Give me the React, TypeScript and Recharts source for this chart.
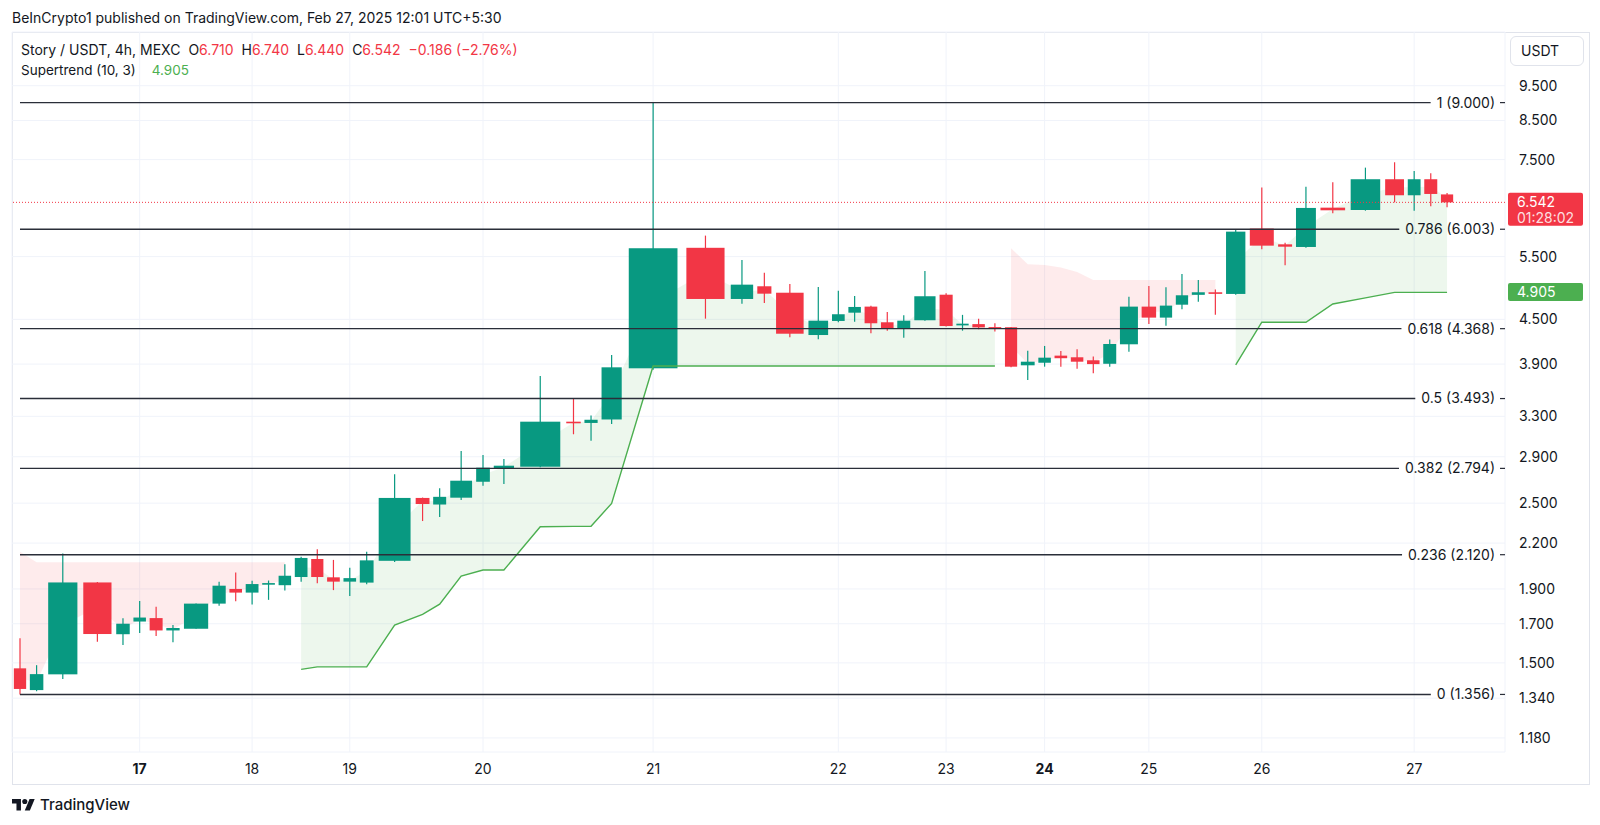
import React from 'react';
import {
  ComposedChart,
  Bar,
  Area,
  Line,
  XAxis,
  YAxis,
  CartesianGrid,
  ReferenceLine,
} from 'recharts';

// Story / USDT 4h volume candles, Feb 16 04:00 .. Feb 27 08:00 (one value per candle)
const opens = [
  1.474, 1.375, 1.446, 1.940, 1.644, 1.712, 1.731, 1.664, 1.673, 1.813,
  1.900, 1.878, 1.930, 1.923, 1.974, 2.091, 1.972, 1.945, 1.939, 2.079,
  2.542, 2.489, 2.544, 2.677, 2.795, 2.809, 3.244, 3.231, 3.267, 3.848,
  5.657, 4.803, 5.002, 4.900, 4.280, 4.477, 4.597, 4.687, 4.458, 4.377,
  4.487, 4.869, 4.414, 4.432, 4.390, 4.388, 3.885, 3.917, 4.007, 3.986,
  3.948, 3.904, 4.155, 4.687, 4.525, 4.716, 4.867, 4.907, 4.881, 6.016,
  5.720, 5.672, 6.432, 6.384, 7.044, 6.692, 7.044, 6.710,
];
const highs = [
  1.623, 1.489, 2.129, 1.942, 1.730, 1.828, 1.795, 1.693, 1.813, 1.945,
  2.003, 1.950, 1.952, 2.056, 2.106, 2.158, 2.085, 2.033, 2.140, 2.742,
  2.545, 2.622, 2.954, 2.916, 2.880, 3.755, 3.496, 3.310, 4.016, 9.000,
  5.882, 5.441, 5.224, 5.039, 4.990, 4.932, 4.849, 4.700, 4.607, 4.560,
  5.253, 4.890, 4.565, 4.510, 4.445, 4.390, 4.071, 4.133, 4.067, 4.090,
  3.995, 4.220, 4.838, 5.007, 4.985, 5.203, 5.104, 4.950, 6.000, 6.858,
  5.750, 6.877, 6.977, 7.310, 7.437, 7.233, 7.180, 6.740,
];
const lows = [
  1.356, 1.370, 1.425, 1.605, 1.588, 1.650, 1.634, 1.602, 1.673, 1.800,
  1.827, 1.808, 1.835, 1.890, 1.945, 1.935, 1.893, 1.857, 1.929, 2.071,
  2.361, 2.391, 2.525, 2.643, 2.657, 2.805, 3.116, 3.053, 3.220, 3.830,
  4.510, 4.731, 4.740, 4.249, 4.222, 4.458, 4.467, 4.304, 4.340, 4.244,
  4.480, 4.400, 4.340, 4.360, 4.327, 3.860, 3.706, 3.868, 3.868, 3.842,
  3.786, 3.868, 4.058, 4.434, 4.410, 4.648, 4.760, 4.565, 4.870, 5.633,
  5.350, 5.660, 6.317, 6.370, 6.542, 6.370, 6.460, 6.440,
];
const closes = [
  1.380, 1.447, 1.940, 1.645, 1.700, 1.734, 1.664, 1.677, 1.813, 1.920,
  1.878, 1.930, 1.936, 1.982, 2.098, 1.974, 1.945, 1.967, 2.082, 2.542,
  2.493, 2.551, 2.686, 2.800, 2.818, 3.244, 3.228, 3.264, 3.860, 5.649,
  4.803, 5.028, 4.885, 4.298, 4.481, 4.574, 4.682, 4.444, 4.377, 4.481,
  4.845, 4.405, 4.438, 4.386, 4.370, 3.868, 3.930, 3.981, 3.974, 3.930,
  3.900, 4.159, 4.687, 4.525, 4.702, 4.860, 4.907, 4.885, 5.957, 5.696,
  5.677, 6.426, 6.378, 7.044, 6.692, 7.044, 6.720, 6.542,
];
// relative volume of each candle (volume candles: width follows volume)
const volumeWidth = [
  16, 17.2, 35.2, 34, 17.2, 16.2, 16.7, 17, 29.2, 16.9,
  16.3, 16.5, 16.4, 16.2, 16.4, 15.9, 16.4, 16.3, 17.5, 38.4,
  17.5, 16.7, 26.3, 17.4, 24.4, 48.3, 18.2, 16.9, 24.3, 58.7,
  46, 27, 17.8, 33.2, 23.7, 16.4, 16.2, 16.4, 16.3, 16.7,
  25.6, 16.8, 16, 16.2, 16.4, 15.9, 17.5, 16.2, 16.3, 16.2,
  16.2, 16.7, 21.7, 18.2, 16, 16, 16.7, 17.4, 23.3, 28.9,
  17.7, 24, 29.7, 35.6, 22.7, 16.5, 16.7, 15.9,
];
// Supertrend (10, 3)
const supertrend = [
  2.140, 2.069, 2.069, 2.069, 2.069, 2.069, 2.069, 2.069, 2.069, 2.069,
  2.069, 2.069, 2.069, 2.069, 1.469, 1.481, 1.481, 1.481, 1.481, 1.693,
  1.752, 1.810, 1.980, 2.019, 2.019, 2.318, 2.321, 2.322, 2.498, 3.876,
  3.876, 3.876, 3.876, 3.876, 3.876, 3.876, 3.876, 3.876, 3.876, 3.876,
  3.876, 3.876, 3.876, 3.876, 3.876, 5.649, 5.367, 5.355, 5.313, 5.236,
  5.104, 5.104, 5.104, 5.104, 5.104, 5.104, 5.104, 5.104, 3.889, 4.459,
  4.459, 4.459, 4.727, 4.819, 4.905, 4.905, 4.905, 4.905,
];
const trendSegments = [
  { up: false, first: 0, last: 13 },
  { up: true, first: 14, last: 44 },
  { up: false, first: 45, last: 57 },
  { up: true, first: 58, last: 67 },
];

const dayLabels = ['17', '18', '19', '20', '21', '22', '23', '24', '25', '26', '27'];
const boldDays = ['17', '24'];
const FIRST_MIDNIGHT_BAR = 5; // Feb 17 00:00
const BARS_PER_DAY = 6;

const priceTicks = [1.18, 1.34, 1.5, 1.7, 1.9, 2.2, 2.5, 2.9, 3.3, 3.9, 4.5, 5.5, 7.5, 8.5, 9.5];
const fibLevels = [
  { ratio: '1', price: 9.0 },
  { ratio: '0.786', price: 6.003 },
  { ratio: '0.618', price: 4.368 },
  { ratio: '0.5', price: 3.493 },
  { ratio: '0.382', price: 2.794 },
  { ratio: '0.236', price: 2.12 },
  { ratio: '0', price: 1.356 },
];

const GREEN = '#089981';
const RED = '#f23645';
const ST_GREEN = '#4caf50';
const TEXT = '#131722';
const FONT = 'Inter, "Noto Sans", sans-serif';
const FONT_CSS = `14px Inter, "Noto Sans", sans-serif`;

const CHART_W = 1600;
const CHART_H = 825;
const MARGIN = { top: 32, right: 0, bottom: 42, left: 12 };
const Y_AXIS_W = 95;
const X_AXIS_H = 31;
const PLOT_W = CHART_W - MARGIN.left - Y_AXIS_W;
const PLOT_BOTTOM = CHART_H - MARGIN.bottom - X_AXIS_H;
const RIGHT_SPACE = 50;

const trendAt = (i: number) => trendSegments.find((s) => i >= s.first && i <= s.last)!.up;

let cursor = 0;
const rows = opens.map((open, i) => {
  const w = volumeWidth[i];
  const x = cursor + w / 2;
  cursor += w;
  const close = closes[i];
  const mid = (open + close) / 2;
  const up = trendAt(i);
  return {
    x,
    w,
    open,
    close,
    wick: [lows[i], highs[i]],
    body: [Math.min(open, close), Math.max(open, close)],
    stUp: up ? supertrend[i] : null,
    bandUp: up ? [supertrend[i], mid] : null,
    bandDown: up ? null : [mid, supertrend[i]],
  };
});
const X_MAX = cursor + RIGHT_SPACE;
const pxPerUnit = PLOT_W / X_MAX;
const dayTicks = dayLabels.map((_, k) => rows[FIRST_MIDNIGHT_BAR + k * BARS_PER_DAY].x);
const lastClose = closes[closes.length - 1];
const lastSt = supertrend[supertrend.length - 1];

const measureCtx = document.createElement('canvas').getContext('2d');
const textWidth = (t: string) => {
  if (!measureCtx) return t.length * 7;
  measureCtx.font = FONT_CSS;
  return measureCtx.measureText(t).width;
};

const Wick = (props: any) => {
  const { x, y, width, height, payload } = props;
  const cx = x + width / 2;
  const top = Math.min(y, y + height);
  const color = payload.close >= payload.open ? GREEN : RED;
  return <line x1={cx} x2={cx} y1={top} y2={top + Math.abs(height)} stroke={color} strokeWidth={1.2} />;
};

const Body = (props: any) => {
  const { x, y, width, height, payload } = props;
  const cx = x + width / 2;
  const slot = payload.w * pxPerUnit;
  const bw = slot - Math.max(3.7, slot * 0.17);
  const top = Math.min(y, y + height);
  const h = Math.max(Math.abs(height), 1.6);
  const color = payload.close >= payload.open ? GREEN : RED;
  return <rect x={cx - bw / 2} y={top} width={bw} height={h} fill={color} />;
};

const DayTick = (props: any) => {
  const { x, payload } = props;
  const label = dayLabels[dayTicks.indexOf(payload.value)];
  return (
    <text x={x} y={PLOT_BOTTOM + 17} dy="0.35em" textAnchor="middle" fill={TEXT} fontFamily={FONT} fontSize={14}
      fontWeight={boldDays.includes(label) ? 700 : 400}>
      {label}
    </text>
  );
};

const PriceTick = (props: any) => {
  const { x, y, payload } = props;
  return (
    <text x={x + 12} y={y} dy="0.35em" textAnchor="start" fill={TEXT} fontFamily={FONT} fontSize={14}>
      {payload.value.toFixed(3)}
    </text>
  );
};

const FibLabel = (props: any) => {
  const { viewBox, text } = props;
  if (!viewBox) return null;
  const right = viewBox.x + viewBox.width;
  const y = viewBox.y;
  const textRight = right - 10;
  const lineEnd = textRight - textWidth(text) - 6;
  return (
    <g>
      <line x1={viewBox.x} x2={lineEnd} y1={y} y2={y} stroke="#2a2e39" strokeWidth={1.4} />
      <text x={textRight} y={y} dy="0.35em" textAnchor="end" fill={TEXT} fontFamily={FONT} fontSize={14}>
        {text}
      </text>
      <line x1={right - 5} x2={right} y1={y} y2={y} stroke="#2a2e39" strokeWidth={1.2} />
    </g>
  );
};

const PriceBadge = (props: any) => {
  const { viewBox, color, lines } = props;
  if (!viewBox) return null;
  const left = viewBox.x + viewBox.width + 3;
  const y = viewBox.y;
  const h = lines.length > 1 ? 33 : 18;
  return (
    <g>
      <rect x={left} y={y - 9.5} width={75} height={h} rx={2} fill={color} />
      {lines.map((t: string, i: number) => (
        <text key={t} x={left + 9} y={y + i * 16} dy="0.35em" fill="#fff" fillOpacity={i ? 0.85 : 1}
          fontFamily={FONT} fontSize={14}>
          {t}
        </text>
      ))}
    </g>
  );
};

const TvLogo = () => (
  <svg width={23} height={11.5} viewBox="0 4 36 18" style={{ position: 'absolute', left: 12, top: 799 }}>
    <path d="M14 22H7V11H0V4h14v18z" fill={TEXT} />
    <circle cx={20} cy={8} r={4} fill={TEXT} />
    <path d="M28 22h-8l7.5-18h8L28 22z" fill={TEXT} />
  </svg>
);

export default function App() {
  return (
    <div style={{ position: 'absolute', left: 0, top: 0, width: CHART_W, height: CHART_H, background: '#fff', fontFamily: FONT, color: TEXT }}>
      <div style={{ position: 'absolute', left: 12, top: 8, fontSize: 14, lineHeight: '20px', whiteSpace: 'nowrap' }}>
        BeInCrypto1 published on TradingView.com, Feb 27, 2025 12:01 UTC+5:30
      </div>
      <div style={{ position: 'absolute', left: 11.5, top: 31.5, width: 1576, height: 751, border: '1px solid #e0e3eb' }} />
      <ComposedChart width={CHART_W} height={CHART_H} data={rows} margin={MARGIN}
        style={{ position: 'absolute', left: 0, top: 0 }}>
        <CartesianGrid xAxisId="main" stroke="#f0f3fa" strokeWidth={1} />
        <XAxis xAxisId="main" type="number" dataKey="x" domain={[0, X_MAX]} ticks={dayTicks} interval={0}
          tick={<DayTick />} axisLine={false} tickLine={false} tickSize={0} height={X_AXIS_H} allowDataOverflow />
        <XAxis xAxisId="body" type="number" dataKey="x" domain={[0, X_MAX]} hide height={0} allowDataOverflow />
        <YAxis orientation="right" scale="log" domain={[1.128, 11.28]} allowDataOverflow ticks={priceTicks}
          interval={0} width={Y_AXIS_W} axisLine={false} tickLine={false} tickSize={0} tick={<PriceTick />} />
        <Area xAxisId="main" dataKey="bandUp" stroke="none" fill={ST_GREEN} fillOpacity={0.1}
          isAnimationActive={false} connectNulls={false} />
        <Area xAxisId="main" dataKey="bandDown" stroke="none" fill={RED} fillOpacity={0.1}
          isAnimationActive={false} connectNulls={false} />
        <Line xAxisId="main" dataKey="stUp" stroke={ST_GREEN} strokeWidth={1.4} dot={false}
          isAnimationActive={false} connectNulls={false} />
        <Bar xAxisId="main" dataKey="wick" barSize={2} shape={<Wick />} isAnimationActive={false} />
        <Bar xAxisId="body" dataKey="body" barSize={2} shape={<Body />} isAnimationActive={false} />
        {fibLevels.map((f) => (
          <ReferenceLine key={f.ratio} xAxisId="main" stroke="none"
            segment={[{ x: rows[0].x, y: f.price }, { x: X_MAX, y: f.price }]}
            label={(p: any) => <FibLabel {...p} text={`${f.ratio} (${f.price.toFixed(3)})`} />} />
        ))}
        <ReferenceLine xAxisId="main" y={lastClose} stroke={RED} strokeDasharray="1 2" strokeWidth={1}
          label={(p: any) => <PriceBadge {...p} color={RED} lines={[lastClose.toFixed(3), '01:28:02']} />} />
        <ReferenceLine xAxisId="main" y={lastSt} stroke="none"
          label={(p: any) => <PriceBadge {...p} color={ST_GREEN} lines={[lastSt.toFixed(3)]} />} />
      </ComposedChart>
      <div style={{ position: 'absolute', left: 21, top: 40, fontSize: 14, lineHeight: '20px', whiteSpace: 'nowrap' }}>
        <span>Story / USDT, 4h, MEXC</span>
        <span style={{ marginLeft: 8 }}>O<span style={{ color: RED }}>6.710</span></span>
        <span style={{ marginLeft: 8 }}>H<span style={{ color: RED }}>6.740</span></span>
        <span style={{ marginLeft: 8 }}>L<span style={{ color: RED }}>6.440</span></span>
        <span style={{ marginLeft: 8 }}>C<span style={{ color: RED }}>6.542</span></span>
        <span style={{ marginLeft: 8, color: RED }}>−0.186 (−2.76%)</span>
      </div>
      <div style={{ position: 'absolute', left: 21, top: 60, fontSize: 13.5, lineHeight: '20px', whiteSpace: 'nowrap' }}>
        <span>Supertrend (10, 3)</span>
        <span style={{ marginLeft: 16, color: ST_GREEN }}>4.905</span>
      </div>
      <div style={{ position: 'absolute', left: 1510, top: 36, width: 62, height: 28, border: '1px solid #e0e3eb',
        borderRadius: 6, background: '#fff', fontSize: 14, lineHeight: '28px', paddingLeft: 10 }}>
        USDT
      </div>
      <TvLogo />
      <div style={{ position: 'absolute', left: 40, top: 795, fontSize: 15, fontWeight: 500, lineHeight: '20px' }}>
        TradingView
      </div>
    </div>
  );
}
